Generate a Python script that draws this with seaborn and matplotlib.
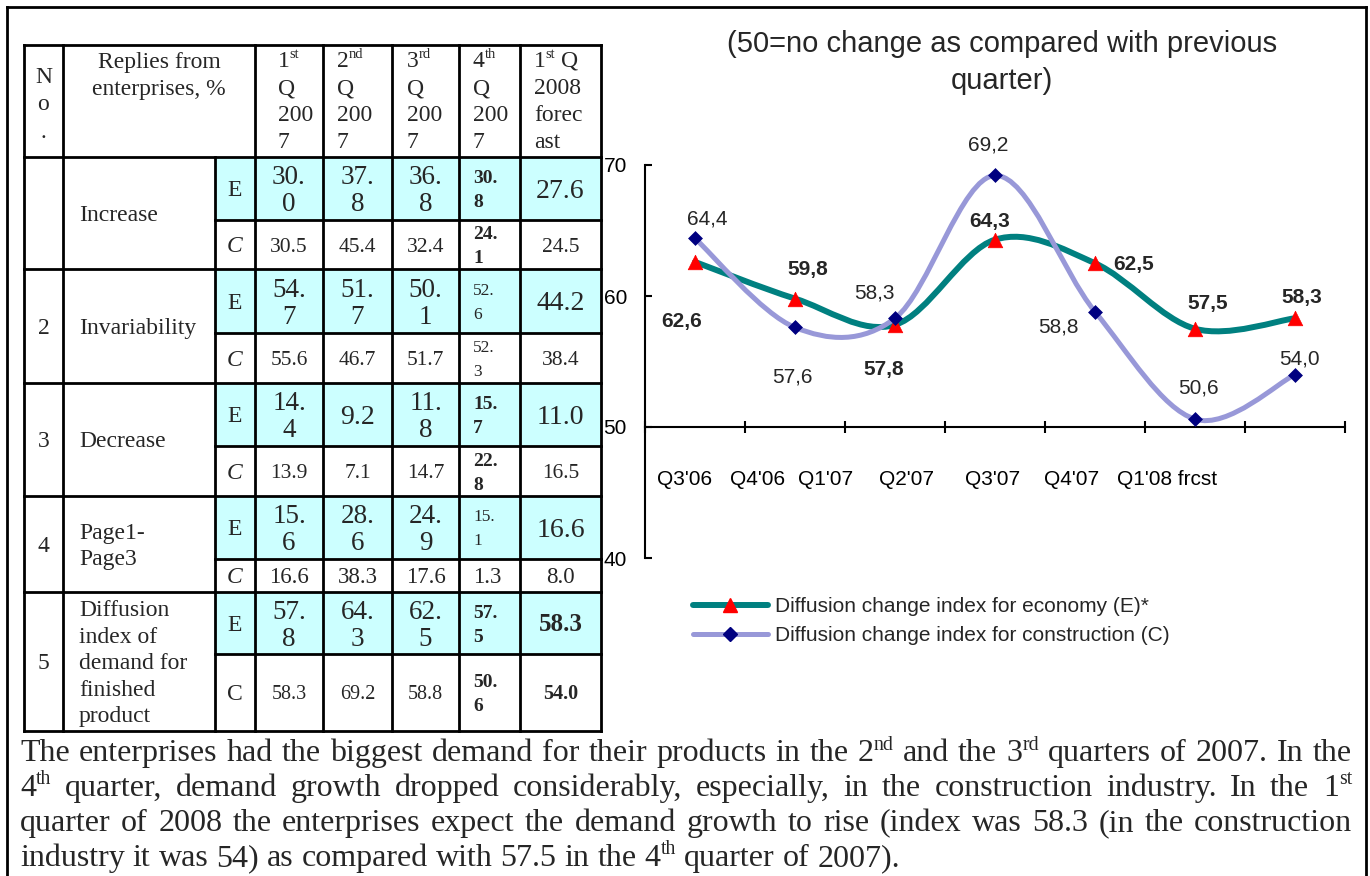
import re
import numpy as np
import pandas as pd
import matplotlib
matplotlib.use("Agg")
import matplotlib.pyplot as plt
import seaborn as sns
from matplotlib.lines import Line2D
from matplotlib.patches import PathPatch, Rectangle
from matplotlib.path import Path

# ------------------------------------------------------------------ data
quarters = ["Q3'06", "Q4'06", "Q1'07", "Q2'07", "Q3'07", "Q4'07", "Q1'08 frcst"]
economy_index = [62.6, 59.8, 57.8, 64.3, 62.5, 57.5, 58.3]
construction_index = [64.4, 57.6, 58.3, 69.2, 58.8, 50.6, 54.0]
series_names = ["Diffusion change index for economy (E)*",
                "Diffusion change index for construction (C)"]
y_ticks = [40, 50, 60, 70]
title_lines = ["(50=no change as compared with previous", "quarter)"]

row_numbers = ["", "2", "3", "4", "5"]
row_labels = ["Increase", "Invariability", "Decrease", "Page1-\nPage3",
              "Diffusion\nindex of\ndemand for\nfinished\nproduct"]
period_headers = ["1^{st}\nQ\n200\n7", "2^{nd}\nQ\n200\n7", "3^{rd}\nQ\n200\n7",
                  "4^{th}\nQ\n200\n7", "1^{st} Q\n2008\nforec\nast"]
economy_replies = [
    [30.0, 37.8, 36.8, 30.8, 27.6],
    [54.7, 51.7, 50.1, 52.6, 44.2],
    [14.4, 9.2, 11.8, 15.7, 11.0],
    [15.6, 28.6, 24.9, 15.1, 16.6],
    [57.8, 64.3, 62.5, 57.5, 58.3],
]
construction_replies = [
    [30.5, 45.4, 32.4, 24.1, 24.5],
    [55.6, 46.7, 51.7, 52.3, 38.4],
    [13.9, 7.1, 14.7, 22.8, 16.5],
    [16.6, 38.3, 17.6, 1.3, 8.0],
    [58.3, 69.2, 58.8, 50.6, 54.0],
]
summary_lines = [
    "The enterprises had the biggest demand for their products in the 2^{nd} and the 3^{rd} quarters of 2007. In the",
    "4^{th} quarter, demand growth dropped considerably, especially, in the construction industry. In the 1^{st}",
    "quarter of 2008 the enterprises expect the demand growth to rise (index was 58.3 (in the construction",
    "industry it was 54) as compared with 57.5 in the 4^{th} quarter of 2007).",
]

# ------------------------------------------------------------------ styles
W, H = 1370, 876
PX = 100 / 72
SERIF = "Liberation Serif"
SANS = "Liberation Sans"
TEAL = "#008080"
RED = "#FF0000"
LAVENDER = "#9898D8"
NAVY = "#000080"
CYAN = "#CCFFFF"

COL_X = [24, 63, 215, 255, 323, 392, 459, 520, 601]
ROW_Y = [45, 157, 269, 383, 496, 592, 731]
SPLIT_Y = [220, 333, 446, 559, 654]
HEAD_X = [278, 337, 407, 473, 534]
Q4_LEFT = 473

# (font size, weight, break after the decimal point)
E_STYLE = [
    [(19.5, "normal", 1)] * 3 + [(14, "bold", 1), (20, "normal", 0)],
    [(19.5, "normal", 1)] * 3 + [(12.5, "normal", 1), (20, "normal", 0)],
    [(19.5, "normal", 1), (20, "normal", 0), (19.5, "normal", 1), (14, "bold", 1), (20, "normal", 0)],
    [(19.5, "normal", 1)] * 3 + [(12.5, "normal", 1), (20, "normal", 0)],
    [(19.5, "normal", 1)] * 3 + [(14, "bold", 1), (18, "bold", 0)],
]
C_STYLE = [
    [(15.5, "normal", 0)] * 3 + [(14, "bold", 1), (15.5, "normal", 0)],
    [(15.5, "normal", 0)] * 3 + [(12.5, "normal", 1), (15.5, "normal", 0)],
    [(15.5, "normal", 0)] * 3 + [(14, "bold", 1), (15.5, "normal", 0)],
    [(16.5, "normal", 0)] * 5,
    [(14.5, "normal", 0)] * 3 + [(14, "bold", 1), (14.5, "bold", 0)],
]

# label offsets (pixels) of the point values around their markers
E_LABEL_OFFSETS = [(-13, -58), (13, 31), (-11, -43), (-5, 20), (39, 1), (13, 27), (7, 23)]
C_LABEL_OFFSETS = [(12, 21), (-3, -48), (-21, 27), (-7, 32), (-37, -13), (3, 33), (4, 18)]
TICK_LABEL_POS = [-0.10, 0.63, 1.31, 2.12, 2.98, 3.77, 4.72]

sns.set_theme(style="ticks")
plt.rcParams["font.family"] = [SANS, "DejaVu Sans"]

fig = plt.figure(figsize=(W / 100, H / 100), dpi=100)
renderer = fig.canvas.get_renderer()

# full-page canvas in pixel units for the table, frame and notes
cv = fig.add_axes([0, 0, 1, 1])
cv.set_xlim(0, W)
cv.set_ylim(H, 0)
cv.set_axis_off()


def rich_segments(line):
    parts = re.split(r"\^\{(.*?)\}", line)
    return [(p, i % 2 == 1) for i, p in enumerate(parts) if p]


def rich_line(x, baseline, line, size, ha="left", family=SERIF, weight="normal",
              style="normal"):
    """One line of text with ^{..} superscripts; returns (artists, width)."""
    arts, spans = [], []
    for text, sup in rich_segments(line):
        fs = size * 0.62 if sup else size
        dy = -0.36 * size * PX if sup else 0.0
        lead = (len(text) - len(text.lstrip(" "))) * 0.25 * fs * PX
        t = cv.text(0, baseline + dy, text.lstrip(" "), fontsize=fs, family=family,
                    weight=weight, style=style, va="baseline", ha="left", zorder=3)
        arts.append(t)
        spans.append((lead, t.get_window_extent(renderer).width))
    total = sum(a + b for a, b in spans)
    pos = x - {"left": 0, "center": total / 2, "right": total}[ha]
    for t, (lead, w) in zip(arts, spans):
        pos += lead
        t.set_x(pos)
        pos += w
    return arts, total


def text_block(x, yc, text, size, step, ha="center", cap=0.67, **kw):
    lines = text.split("\n")
    cap_px = cap * size * PX
    first = yc - ((len(lines) - 1) * step + cap_px) / 2 + cap_px
    for i, ln in enumerate(lines):
        rich_line(x, first + i * step, ln, size, ha=ha, **kw)


def text_lines(x, first_baseline, text, size, step, ha="left", **kw):
    for i, ln in enumerate(text.split("\n")):
        rich_line(x, first_baseline + i * step, ln, size, ha=ha, **kw)


def justified(x0, x1, baseline, line, size, justify=True):
    words = line.split()
    placed = [rich_line(0, baseline, w, size) for w in words]
    total = sum(w for _, w in placed)
    gap = (x1 - x0 - total) / (len(words) - 1) if justify else 0.25 * size * PX
    pos = x0
    for arts, w in placed:
        for a in arts:
            a.set_x(a.get_position()[0] + pos)
        pos += w + gap


def seg(x0, y0, x1, y1, lw=2.0):
    cv.plot([x0, x1], [y0, y1], color="black", lw=lw, solid_capstyle="projecting",
            zorder=2)


# outer frame
seg(7, 7, 1366, 7)
seg(7, 7, 7, H + 2)
seg(1366, 7, 1366, H + 2)

# ------------------------------------------------------------------ table
for g in range(5):
    top, mid = ROW_Y[g + 1], SPLIT_Y[g]
    cv.add_patch(Rectangle((COL_X[2], top), COL_X[-1] - COL_X[2], mid - top,
                           facecolor=CYAN, edgecolor="none", zorder=1))
for y in ROW_Y:
    seg(COL_X[0], y, COL_X[-1], y)
for y in SPLIT_Y:
    seg(COL_X[2], y, COL_X[-1], y)
for i, x in enumerate(COL_X):
    seg(x, ROW_Y[1] if i == 2 else ROW_Y[0], x, ROW_Y[-1])

text_lines(43.5, 83, "N\no\n.", 17, 27.5, ha="center")
text_lines((COL_X[1] + COL_X[3]) / 2, 68, "Replies from\nenterprises, %", 17, 27, ha="center")
for hx, head in zip(HEAD_X, period_headers):
    text_lines(hx, 67, head, 17, 27, ha="left")

for g in range(5):
    top, mid, bot = ROW_Y[g + 1], SPLIT_Y[g], ROW_Y[g + 2]
    gc = (top + bot) / 2
    if row_numbers[g]:
        text_block(43.5, gc, row_numbers[g], 17, 27)
    text_block(79, gc, row_labels[g], 17, 26.5, ha="left")
    text_block(235, (top + mid) / 2, "E", 17, 27)
    text_block(235, (mid + bot) / 2, "C", 17, 27, style="italic" if g < 4 else "normal")
    for vals, styles, y0, y1 in ((economy_replies, E_STYLE, top, mid),
                                 (construction_replies, C_STYLE, mid, bot)):
        for j in range(5):
            size, weight, wrap = styles[g][j]
            s = f"{vals[g][j]:.1f}"
            if wrap:
                s = s.replace(".", ".\n")
            step = 27 if size >= 17 else 24
            if j == 3:
                x, ha = Q4_LEFT, "left"
            else:
                x, ha = (COL_X[3 + j] + COL_X[4 + j]) / 2, "center"
            text_block(x, (y0 + y1) / 2, s, size, step, ha=ha, weight=weight)

# ------------------------------------------------------------------ notes
for i, line in enumerate(summary_lines):
    justified(20, 1352, 761 + 35 * i, line, 23, justify=i < len(summary_lines) - 1)

# ------------------------------------------------------------------ chart
for i, ln in enumerate(title_lines):
    cv.text(1002, 52 + 37 * i, ln, fontsize=21, family=SANS, ha="center",
            va="baseline")

ax = fig.add_axes([645 / W, 1 - 558 / H, 700 / W, (558 - 165) / H])
ax.set_facecolor("none")
pos = np.arange(len(quarters))
df = pd.DataFrame({"pos": pos, "quarter": quarters,
                   "economy": economy_index, "construction": construction_index})


def smooth_path(xs, ys):
    """Bezier curve through the points with Catmull-Rom tangents."""
    pts = np.column_stack([xs, ys]).astype(float)
    n = len(pts)
    verts, codes = [pts[0]], [Path.MOVETO]
    for i in range(n - 1):
        p0 = pts[i - 1] if i > 0 else pts[i]
        p1, p2 = pts[i], pts[i + 1]
        p3 = pts[i + 2] if i + 2 < n else pts[i + 1]
        verts += [p1 + (p2 - p0) / 6, p2 - (p3 - p1) / 6, p2]
        codes += [Path.CURVE4] * 3
    return Path(verts, codes)


ax.add_patch(PathPatch(smooth_path(df["pos"], df["economy"]), facecolor="none",
                       edgecolor=TEAL, lw=4.3, capstyle="round", joinstyle="round",
                       zorder=2))
sns.scatterplot(data=df, x="pos", y="economy", marker="^", s=110, color=RED,
                edgecolor=RED, linewidth=0.5, ax=ax, zorder=3, legend=False)
ax.add_patch(PathPatch(smooth_path(df["pos"], df["construction"]), facecolor="none",
                       edgecolor=LAVENDER, lw=3.6, capstyle="round", joinstyle="round",
                       zorder=4))
sns.scatterplot(data=df, x="pos", y="construction", marker="D", s=50, color=NAVY,
                edgecolor=NAVY, linewidth=0.5, ax=ax, zorder=5, legend=False)

cap_half = 0.716 * 15 * PX / 2
for xi, v, (dx, dy) in zip(pos, economy_index, E_LABEL_OFFSETS):
    ax.annotate(f"{v:.1f}".replace(".", ","), (xi, v), xytext=(dx, dy - cap_half),
                textcoords="offset pixels", ha="center", va="baseline",
                fontsize=15, fontweight="bold", zorder=6)
for xi, v, (dx, dy) in zip(pos, construction_index, C_LABEL_OFFSETS):
    ax.annotate(f"{v:.1f}".replace(".", ","), (xi, v), xytext=(dx, dy - cap_half),
                textcoords="offset pixels", ha="center", va="baseline",
                fontsize=15, zorder=6)

ax.set_xlim(-0.5, len(quarters) - 0.5)
ax.set_ylim(y_ticks[0], y_ticks[-1])
ax.set_xlabel("")
ax.set_ylabel("")
sns.despine(ax=ax, top=True, right=True)
ax.spines["bottom"].set_position(("data", 50))
for sp in ("left", "bottom"):
    ax.spines[sp].set_linewidth(1.5)
    ax.spines[sp].set_color("black")

ax.set_xticks(np.arange(-0.5, len(quarters), 1))
ax.set_xticklabels([])
ax.set_xticks(TICK_LABEL_POS, quarters, minor=True)
ax.tick_params(axis="x", which="major", direction="inout", length=9, width=1.5,
               color="black")
ax.tick_params(axis="x", which="minor", length=0, pad=31, labelsize=15,
               labelcolor="black")
ax.set_yticks(y_ticks)
ax.tick_params(axis="y", direction="in", length=5, width=1.5, pad=13, labelsize=15,
               color="black", labelcolor="black")

handles = [
    Line2D([], [], color=TEAL, lw=4.3, solid_capstyle="round", marker="^",
           markersize=10.5, markerfacecolor=RED, markeredgecolor=RED),
    Line2D([], [], color=LAVENDER, lw=3.6, solid_capstyle="round", marker="D",
           markersize=7, markerfacecolor=NAVY, markeredgecolor=NAVY),
]
fig.legend(handles, series_names, loc="upper left",
           bbox_to_anchor=(693 / W, 1 - 597 / H), frameon=False, fontsize=15,
           handlelength=3.6, handletextpad=0.34, borderpad=0, borderaxespad=0,
           labelspacing=0.5, numpoints=1)

fig.savefig("out.png", dpi=100)
